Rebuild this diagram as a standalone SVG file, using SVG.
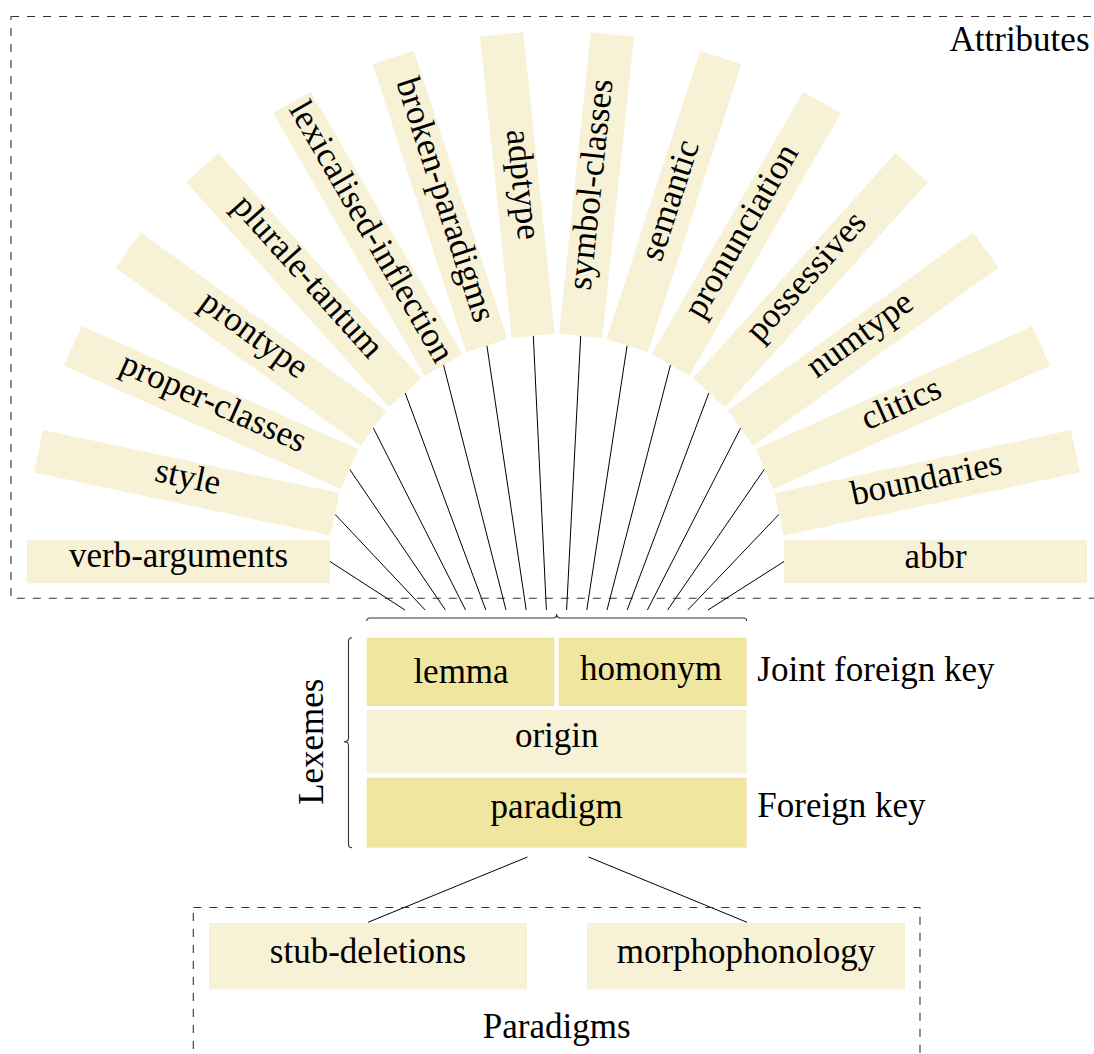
<svg xmlns="http://www.w3.org/2000/svg" width="1094" height="1054" viewBox="0 0 1094 1054">
<style>
  text { font-family: "Liberation Serif", "Times New Roman", serif; font-size: 35px; fill: #000; }
  .mid { text-anchor: middle; }
  .fan { fill: #F7F1D6; }
  .light { fill: #F7F1D6; }
  .dark { fill: #F0E6A0; }
  .box { fill: none; stroke: #333; stroke-width: 1.1; stroke-dasharray: 8 8; }
  .conn line { stroke: #000; stroke-width: 1; }
  .brace { fill: none; stroke: #333; stroke-width: 1.1; }
</style>
<rect id="attributes-box" class="box" x="11" y="16.5" width="1100" height="581.8"/>
<text id="attributes-label" x="1089.5" y="50.5" text-anchor="end">Attributes</text>

<g id="connectors" class="conn">
  <line x1="330.0" y1="561.5" x2="405.0" y2="610"/>
  <line x1="335.0" y1="514.3" x2="425.2" y2="610"/>
  <line x1="349.6" y1="469.2" x2="445.4" y2="610"/>
  <line x1="373.4" y1="428.1" x2="465.6" y2="610"/>
  <line x1="405.1" y1="392.8" x2="485.8" y2="610"/>
  <line x1="443.5" y1="364.9" x2="506.0" y2="610"/>
  <line x1="486.9" y1="345.6" x2="526.2" y2="610"/>
  <line x1="533.3" y1="335.7" x2="546.4" y2="610"/>
  <line x1="580.7" y1="335.7" x2="566.6" y2="610"/>
  <line x1="627.1" y1="345.6" x2="586.8" y2="610"/>
  <line x1="670.5" y1="364.9" x2="607.0" y2="610"/>
  <line x1="708.9" y1="392.8" x2="627.2" y2="610"/>
  <line x1="740.6" y1="428.1" x2="647.4" y2="610"/>
  <line x1="764.4" y1="469.2" x2="667.6" y2="610"/>
  <line x1="779.0" y1="514.3" x2="687.8" y2="610"/>
  <line x1="784.0" y1="561.5" x2="708.0" y2="610"/>
  <line x1="527.5" y1="857" x2="368" y2="922.3"/>
  <line x1="588.5" y1="857" x2="747" y2="922.3"/>
</g>

<g id="fan" transform="translate(557,561.5)">
  <g id="verb-arguments" transform="rotate(0)"><rect class="fan" x="-530" y="-21.7" width="303" height="43.4"/><text class="mid" x="-378.5" y="5">verb-arguments</text></g>
  <g id="style" transform="rotate(12)"><rect class="fan" x="-530" y="-21.7" width="303" height="43.4"/><text class="mid" x="-378.5" y="5">style</text></g>
  <g id="proper-classes" transform="rotate(24)"><rect class="fan" x="-530" y="-21.7" width="303" height="43.4"/><text class="mid" x="-378.5" y="5">proper-classes</text></g>
  <g id="prontype" transform="rotate(36)"><rect class="fan" x="-530" y="-21.7" width="303" height="43.4"/><text class="mid" x="-378.5" y="5">prontype</text></g>
  <g id="plurale-tantum" transform="rotate(48)"><rect class="fan" x="-530" y="-21.7" width="303" height="43.4"/><text class="mid" x="-378.5" y="5">plurale-tantum</text></g>
  <g id="lexicalised-inflection" transform="rotate(60)"><rect class="fan" x="-530" y="-21.7" width="303" height="43.4"/><text class="mid" x="-378.5" y="6.5">lexicalised-inflection</text></g>
  <g id="broken-paradigms" transform="rotate(72)"><rect class="fan" x="-530" y="-21.7" width="303" height="43.4"/><text class="mid" x="-378.5" y="5">broken-paradigms</text></g>
  <g id="adptype" transform="rotate(84)"><rect class="fan" x="-530" y="-21.7" width="303" height="43.4"/><text class="mid" x="-378.5" y="5">adptype</text></g>
  <g id="symbol-classes" transform="rotate(-84)"><rect class="fan" x="227" y="-21.7" width="303" height="43.4"/><text class="mid" x="378.5" y="5">symbol-classes</text></g>
  <g id="semantic" transform="rotate(-72)"><rect class="fan" x="227" y="-21.7" width="303" height="43.4"/><text class="mid" x="378.5" y="6.5">semantic</text></g>
  <g id="pronunciation" transform="rotate(-60)"><rect class="fan" x="227" y="-21.7" width="303" height="43.4"/><text class="mid" x="378.5" y="5">pronunciation</text></g>
  <g id="possessives" transform="rotate(-48)"><rect class="fan" x="227" y="-21.7" width="303" height="43.4"/><text class="mid" x="378.5" y="5">possessives</text></g>
  <g id="numtype" transform="rotate(-36)"><rect class="fan" x="227" y="-21.7" width="303" height="43.4"/><text class="mid" x="378.5" y="5">numtype</text></g>
  <g id="clitics" transform="rotate(-24)"><rect class="fan" x="227" y="-21.7" width="303" height="43.4"/><text class="mid" x="378.5" y="6.5">clitics</text></g>
  <g id="boundaries" transform="rotate(-12)"><rect class="fan" x="227" y="-21.7" width="303" height="43.4"/><text class="mid" x="378.5" y="6.5">boundaries</text></g>
  <g id="abbr" transform="rotate(0)"><rect class="fan" x="227" y="-21.7" width="303" height="43.4"/><text class="mid" x="378.5" y="6.5">abbr</text></g>
</g>

<g id="braces">
  <path class="brace" d="M366.7 621 Q366.7 618 370 618 L553.2 618 Q556.7 618 556.7 614 Q556.7 618 560.2 618 L743.4 618 Q746.7 618 746.7 621"/>
  <path class="brace" d="M352 637.7 Q348.5 637.7 348.5 641.2 L348.5 738 Q348.5 741.7 343.8 741.7 Q348.5 741.7 348.5 745.4 L348.5 844.2 Q348.5 847.7 352 847.7"/>
</g>

<g id="lexemes">
  <text id="lexemes-label" class="mid" transform="translate(323.3,741.7) rotate(-90)">Lexemes</text>
  <g id="lemma"><rect class="dark" x="366.7" y="637.7" width="187.6" height="68.3"/><text class="mid" x="461" y="683.3">lemma</text></g>
  <g id="homonym"><rect class="dark" x="558.7" y="637.7" width="188" height="68.3"/><text class="mid" x="651" y="680">homonym</text></g>
  <g id="origin"><rect class="light" x="366.7" y="710" width="380" height="63.3"/><text class="mid" x="556.7" y="746.7">origin</text></g>
  <g id="paradigm"><rect class="dark" x="366.7" y="777.7" width="380" height="70"/><text class="mid" x="556.7" y="818.3">paradigm</text></g>
  <text id="joint-fk" x="757.3" y="680.7">Joint foreign key</text>
  <text id="fk" x="757.3" y="817.3">Foreign key</text>
</g>

<rect id="paradigms-box" class="box" x="193.3" y="907.5" width="726.7" height="200"/>
<g id="stub-deletions"><rect class="light" x="209" y="923" width="318" height="66.3"/><text class="mid" x="368" y="963.3">stub-deletions</text></g>
<g id="morphophonology"><rect class="light" x="587" y="923" width="318" height="66.3"/><text class="mid" x="746" y="963.3">morphophonology</text></g>
<text id="paradigms-label" class="mid" x="556.7" y="1038">Paradigms</text>
</svg>
